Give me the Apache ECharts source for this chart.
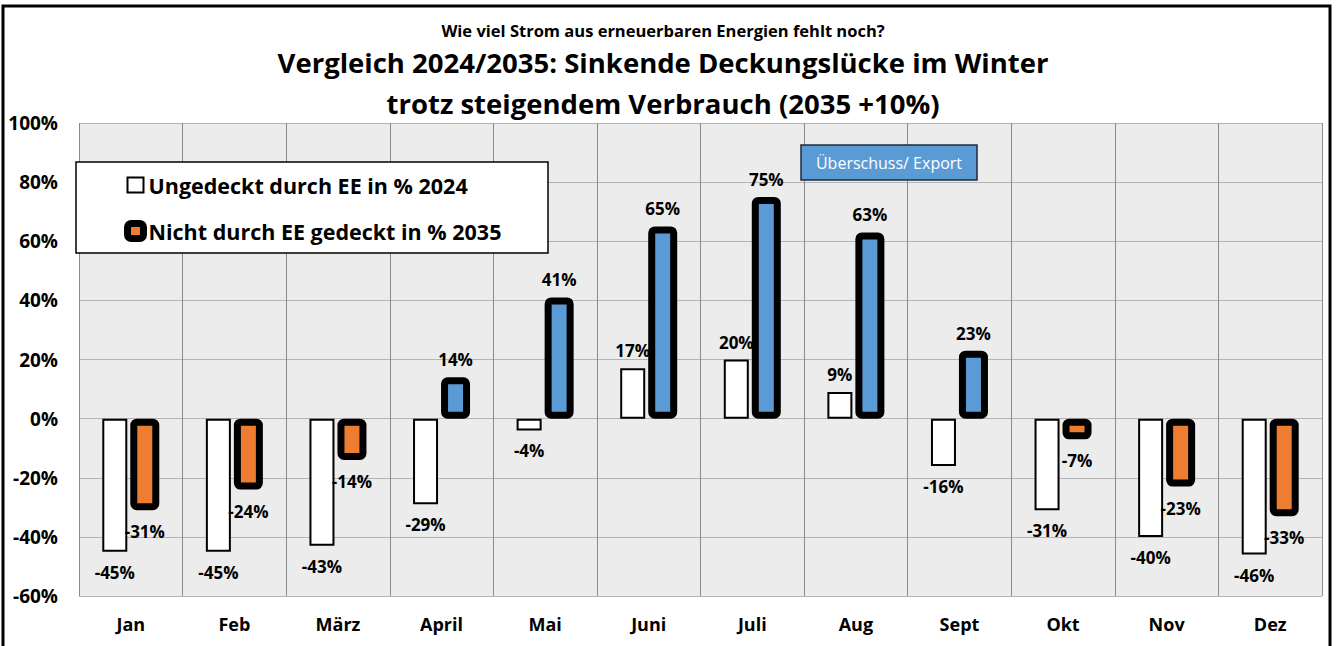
<!DOCTYPE html>
<html><head><meta charset="utf-8">
<script src="https://cdn.jsdelivr.net/npm/echarts@6/dist/echarts.min.js"></script>
<style>html,body{margin:0;padding:0;background:#fff}#c{width:1337px;height:646px}</style>
</head><body><div id="c"></div>
<script>
const categories = ['Jan','Feb','März','April','Mai','Juni','Juli','Aug','Sept','Okt','Nov','Dez'];
const values2024 = [-45,-45,-43,-29,-4,17,20,9,-16,-31,-40,-46];
const values2035 = [-31,-24,-14,14,41,65,75,63,23,-7,-23,-33];
const seriesNames = ['Ungedeckt durch EE in % 2024','Nicht durch EE gedeckt in % 2035'];
const subtitleText = 'Wie viel Strom aus erneuerbaren Energien fehlt noch?';
const titleLines = ['Vergleich 2024/2035: Sinkende Deckungslücke im Winter','trotz steigendem Verbrauch (2035 +10%)'];
const exportNote = 'Überschuss/ Export';

const FONT = '"Open Sans", sans-serif';
const BLUE = '#5b9bd5', ORANGE = '#ed7d31';

const data2024 = values2024.map(v => ({
  value: v,
  label: { position: v >= 0 ? 'top' : 'bottom', distance: v >= 0 ? 9 : 12 }
}));
const data2035 = values2035.map(v => ({
  value: v,
  itemStyle: { color: v >= 0 ? BLUE : ORANGE },
  label: { position: v >= 0 ? 'top' : 'bottom', distance: v >= 0 ? 9 : 13 }
}));

const labelStyle = { show: true, color: '#000', fontFamily: FONT, fontWeight: 'bold', fontSize: 17,
  formatter: p => p.value + '%' };

const chart = echarts.init(document.getElementById('c'), null, { renderer: 'svg' });
chart.setOption({
  animation: false,
  backgroundColor: '#fff',
  textStyle: { fontFamily: FONT },
  grid: { left: 79, right: 15, top: 123, bottom: 50, show: true, backgroundColor: '#ececec', borderWidth: 0, containLabel: false },
  xAxis: {
    type: 'category', data: categories,
    axisLine: { show: false, onZero: false }, axisTick: { show: false },
    splitLine: { show: true, lineStyle: { color: '#8c8c8c', width: 1 } },
    axisLabel: { color: '#000', fontFamily: FONT, fontWeight: 'bold', fontSize: 18, margin: 19 }
  },
  yAxis: {
    type: 'value', min: -60, max: 100, interval: 20,
    axisLine: { show: false }, axisTick: { show: false },
    splitLine: { show: true, lineStyle: { color: '#b4b4b4', width: 1 } },
    axisLabel: { color: '#000', fontFamily: FONT, fontWeight: 'bold', fontSize: 19, margin: 21, formatter: '{value}%' }
  },
  legend: {
    orient: 'vertical', left: 119, top: 169, itemWidth: 16, itemHeight: 15, itemGap: 24, z: 20,
    textStyle: { color: '#000', fontFamily: FONT, fontWeight: 'bold', fontSize: 21.5, lineHeight: 22 },
    data: [
      { name: seriesNames[0], icon: 'rect', itemStyle: { color: '#fff', borderColor: '#000', borderWidth: 2 } },
      { name: seriesNames[1], icon: 'roundRect', itemStyle: { color: ORANGE, borderColor: '#000', borderWidth: 7 } }
    ]
  },
  series: [
    { name: seriesNames[0], type: 'bar', data: data2024, barWidth: 25, barGap: '12%',
      itemStyle: { color: '#fff', borderColor: '#000', borderWidth: 2 },
      label: labelStyle },
    { name: seriesNames[1], type: 'bar', data: data2035, barWidth: 29,
      itemStyle: { color: ORANGE, borderColor: '#000', borderWidth: 7, borderRadius: 3 },
      label: labelStyle }
  ],
  graphic: [
    { type: 'rect', z: 15, shape: { x: 76, y: 162, width: 472, height: 91 },
      style: { fill: '#fff', stroke: '#000', lineWidth: 1.5 } },
    { type: 'rect', z: 15, shape: { x: 801, y: 145, width: 176, height: 35 },
      style: { fill: BLUE, stroke: '#1e2b3c', lineWidth: 1.5 } },
    { type: 'text', z: 16, x: 889, y: 163,
      style: { text: exportNote, fill: '#fff', font: '16px ' + FONT, textAlign: 'center', textVerticalAlign: 'middle' } },
    { type: 'text', z: 16, x: 663, y: 30,
      style: { text: subtitleText, fill: '#000', font: 'bold 16.5px ' + FONT, textAlign: 'center', textVerticalAlign: 'middle' } },
    { type: 'text', z: 16, x: 663, y: 62,
      style: { text: titleLines[0], fill: '#000', font: 'bold 27.5px ' + FONT, textAlign: 'center', textVerticalAlign: 'middle' } },
    { type: 'text', z: 16, x: 663, y: 103,
      style: { text: titleLines[1], fill: '#000', font: 'bold 27.5px ' + FONT, textAlign: 'center', textVerticalAlign: 'middle' } },
    { type: 'rect', z: 30, shape: { x: 3, y: 6, width: 1327, height: 660 },
      style: { fill: 'none', stroke: '#000', lineWidth: 3 } }
  ]
});
</script></body></html>
